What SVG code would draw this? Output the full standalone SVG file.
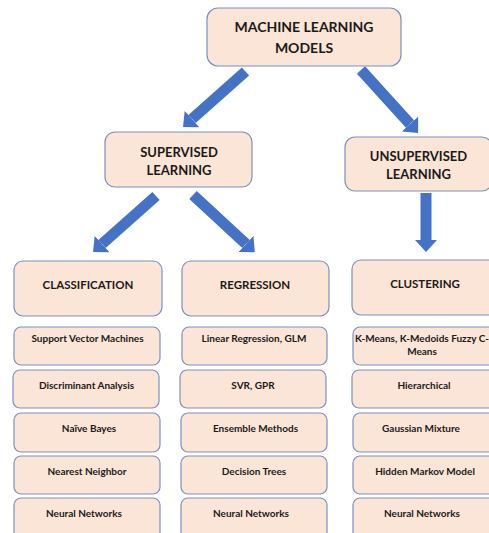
<svg xmlns="http://www.w3.org/2000/svg" width="489" height="533" viewBox="0 0 489 533">
<defs>
<style>
.box{fill:#FBE5D6;stroke:#7A90C4;stroke-width:1.2}
.t{font-family:Lato,"Liberation Sans",sans-serif;font-weight:bold;fill:#1a1a1a;text-anchor:middle}
.h1{font-size:14px}
.h2{font-size:13px}
.h3{font-size:11.5px}
.it{font-size:10px}
.arr{stroke:#4472C4;stroke-width:11;fill:none;marker-end:url(#head)}
</style>
<marker id="head" viewBox="0 0 12 22" markerWidth="12" markerHeight="22" refX="0" refY="11" orient="auto" markerUnits="userSpaceOnUse">
<path d="M0,0 L12,11 L0,22 Z" fill="#4472C4"/>
</marker>
</defs>
<rect width="489" height="533" fill="#ffffff"/>

<g id="connectors">
<line class="arr" x1="245.5" y1="71.5" x2="192" y2="119"/>
<line class="arr" x1="361" y1="70" x2="410" y2="124"/>
<line class="arr" x1="156" y1="196" x2="102" y2="244"/>
<line class="arr" x1="193" y1="195" x2="246" y2="244"/>
<line class="arr" x1="426" y1="193" x2="426" y2="240"/>
</g>

<g id="ml-models">
<rect class="box" x="207" y="8" width="194" height="58" rx="11"/>
<text class="t h1" x="304" y="32">MACHINE LEARNING</text>
<text class="t h1" x="304" y="53">MODELS</text>
</g>

<g id="supervised">
<rect class="box" x="105" y="132" width="147" height="55" rx="10"/>
<text class="t h2" x="179" y="157">SUPERVISED</text>
<text class="t h2" x="179" y="175">LEARNING</text>
</g>

<g id="unsupervised">
<rect class="box" x="345" y="137" width="147" height="54" rx="10"/>
<text class="t h2" x="418.5" y="161">UNSUPERVISED</text>
<text class="t h2" x="418.5" y="179">LEARNING</text>
</g>

<g id="classification">
<rect class="box" x="14" y="261" width="148" height="55" rx="9"/>
<text class="t h3" x="88" y="289">CLASSIFICATION</text>
</g>
<g id="regression">
<rect class="box" x="182" y="261" width="147" height="55" rx="9"/>
<text class="t h3" x="255" y="289">REGRESSION</text>
</g>
<g id="clustering">
<rect class="box" x="352" y="260" width="147" height="55" rx="9"/>
<text class="t h3" x="425" y="288">CLUSTERING</text>
</g>

<g id="svm">
<rect class="box" x="14" y="327" width="146" height="38" rx="7"/>
<text class="t it" x="87.5" y="342">Support Vector Machines</text>
</g>
<g id="linreg">
<rect class="box" x="182" y="327" width="145" height="38" rx="7"/>
<text class="t it" x="254" y="342">Linear Regression, GLM</text>
</g>
<g id="kmeans">
<rect class="box" x="353" y="327" width="146" height="38" rx="7"/>
<text class="t it" x="422" y="342">K-Means, K-Medoids Fuzzy C-</text>
<text class="t it" x="422" y="355">Means</text>
</g>

<g id="discriminant">
<rect class="box" x="13" y="370" width="146" height="38" rx="7"/>
<text class="t it" x="86.5" y="389">Discriminant  Analysis</text>
</g>
<g id="svr">
<rect class="box" x="180" y="370" width="146" height="38" rx="7"/>
<text class="t it" x="253" y="389">SVR, GPR</text>
</g>
<g id="hierarchical">
<rect class="box" x="352" y="370" width="147" height="38" rx="7"/>
<text class="t it" x="424" y="389">Hierarchical</text>
</g>

<g id="naivebayes">
<rect class="box" x="14" y="413" width="146" height="39" rx="7"/>
<text class="t it" x="89" y="432">Naïve Bayes</text>
</g>
<g id="ensemble">
<rect class="box" x="181" y="413" width="146" height="39" rx="7"/>
<text class="t it" x="255.5" y="432">Ensemble Methods</text>
</g>
<g id="gaussian">
<rect class="box" x="353" y="413" width="146" height="39" rx="7"/>
<text class="t it" x="421" y="432">Gaussian  Mixture</text>
</g>

<g id="nearest">
<rect class="box" x="14" y="456" width="146" height="38" rx="7"/>
<text class="t it" x="87" y="475">Nearest Neighbor</text>
</g>
<g id="dtrees">
<rect class="box" x="181" y="456" width="146" height="38" rx="7"/>
<text class="t it" x="254" y="475">Decision  Trees</text>
</g>
<g id="hmm">
<rect class="box" x="353" y="456" width="146" height="38" rx="7"/>
<text class="t it" x="425" y="475">Hidden Markov Model</text>
</g>

<g id="nn1">
<rect class="box" x="14" y="498" width="146" height="45" rx="7"/>
<text class="t it" x="84" y="517">Neural Networks</text>
</g>
<g id="nn2">
<rect class="box" x="181" y="498" width="146" height="45" rx="7"/>
<text class="t it" x="251" y="517">Neural Networks</text>
</g>
<g id="nn3">
<rect class="box" x="353" y="498" width="146" height="45" rx="7"/>
<text class="t it" x="422" y="517">Neural Networks</text>
</g>
</svg>
